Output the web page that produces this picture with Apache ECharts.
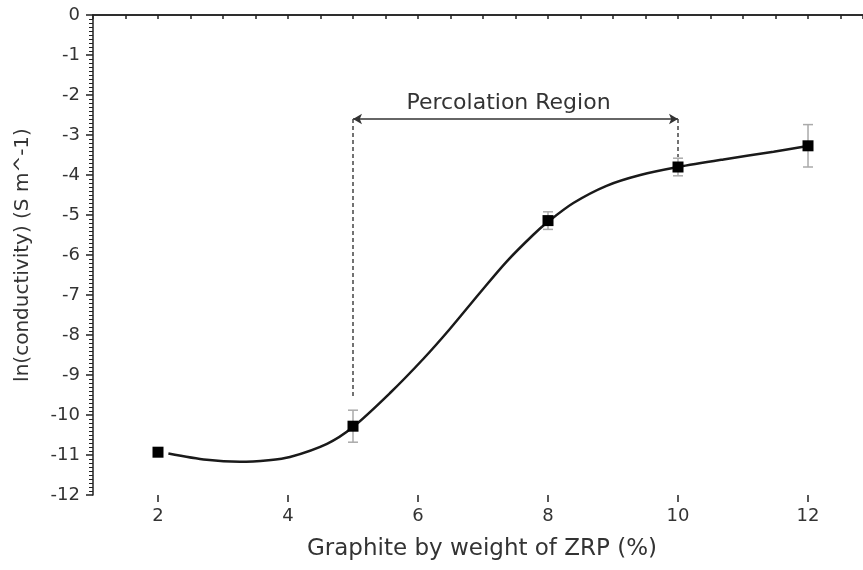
<!DOCTYPE html>
<html>
<head>
<meta charset="utf-8">
<script src="https://cdn.jsdelivr.net/npm/echarts@6/dist/echarts.min.js"></script>
<style>html,body{margin:0;padding:0;background:#fff}#c{width:863px;height:570px}</style>
</head>
<body>
<div id="c"></div>
<script>
// Measured points
const graphite = [2, 5, 8, 10, 12];
const lnCond = [-10.93, -10.28, -5.14, -3.80, -3.27];
const errAmt = [0, 0.40, 0.22, 0.22, 0.53];
// Fitted curve
const curveX = [2.16, 2.75, 3.26, 3.7, 4.03, 4.6, 5.0, 5.57, 6.08, 6.49, 6.95, 7.36, 7.77, 8.0, 8.39, 8.9, 9.42, 10.0, 10.7, 11.47, 11.95];
const curveY = [-10.96, -11.12, -11.17, -11.13, -11.05, -10.72, -10.3, -9.45, -8.6, -7.85, -6.95, -6.17, -5.5, -5.17, -4.7, -4.27, -4.0, -3.8, -3.61, -3.42, -3.29];
// Annotation
const percStart = 5, percEnd = 10, percLevel = -2.6;
const dashEnds = [-9.6, -3.55];
const xLabels = [2, 4, 6, 8, 10, 12];

const FONT = 'DejaVu Sans';
const TXT = '#333';

const chart = echarts.init(document.getElementById('c'));
const curveData = curveX.map((x, i) => [x, curveY[i]]);
const pointData = graphite.map((x, i) => [x, lnCond[i]]);
const errData = graphite.map((x, i) => [x, lnCond[i] - errAmt[i], lnCond[i] + errAmt[i]]).filter((d, i) => errAmt[i] > 0);

const XMAX = 12.846;
const dashStyle = { type: [4, 3], width: 1.5, color: '#444' };

chart.setOption({
  animation: false,
  grid: { left: 93, top: 15, width: 770, height: 480, show: false },
  xAxis: [
    {
      type: 'value', min: 1, max: XMAX, interval: 0.5,
      axisLine: { show: true, lineStyle: { color: '#222', width: 1.5 } },
      axisTick: { show: true, length: 4, lineStyle: { color: '#222', width: 1.5 } },
      axisLabel: { show: false },
      splitLine: { show: false },
      name: 'Graphite by weight of ZRP (%)', nameLocation: 'middle', nameGap: 43,
      nameTextStyle: { fontFamily: FONT, fontSize: 23, color: TXT, padding: [0, 0, 0, 8] }
    },
    {
      type: 'value', min: 1, max: XMAX, position: 'bottom',
      axisLine: { show: false },
      axisTick: { show: true, length: 7, customValues: xLabels, lineStyle: { color: '#222', width: 1.5 } },
      axisLabel: { show: true, customValues: xLabels, margin: 12, fontFamily: FONT, fontSize: 18, color: TXT },
      splitLine: { show: false }
    },
    {
      type: 'value', min: 1, max: XMAX, position: 'top',
      axisLine: { show: true, lineStyle: { color: '#222', width: 1.5 } },
      axisTick: { show: false }, axisLabel: { show: false }, splitLine: { show: false }
    }
  ],
  yAxis: {
    type: 'value', min: -12, max: 0, interval: 1,
    axisLine: { show: true, lineStyle: { color: '#222', width: 1.5 } },
    axisTick: { show: true, length: 7, lineStyle: { color: '#222', width: 1.5 } },
    minorTick: { show: true, splitNumber: 10, length: 4, lineStyle: { color: '#222', width: 1 } },
    axisLabel: { margin: 13, fontFamily: FONT, fontSize: 18, color: TXT },
    splitLine: { show: false },
    name: 'ln(conductivity) (S m^-1)', nameLocation: 'middle', nameGap: 60, nameRotate: 90,
    nameTextStyle: { fontFamily: FONT, fontSize: 20, color: TXT }
  },
  series: [
    {
      type: 'line', data: curveData, smooth: 0.3, showSymbol: false, symbol: 'none',
      lineStyle: { color: '#1a1a1a', width: 2.5 }, z: 2,
      markLine: {
        silent: true, animation: false,
        symbolSize: [8, 9],
        lineStyle: { color: '#333', width: 1.5, type: 'solid' },
        label: { show: false },
        data: [
          [{ coord: [percStart, percLevel], symbol: 'arrow',
             label: { show: true, position: 'middle', distance: 5, formatter: 'Percolation Region', fontFamily: FONT, fontSize: 22, color: TXT, padding: [0, 14, 0, 0] } },
           { coord: [percEnd, percLevel], symbol: 'arrow' }],
          [{ coord: [percStart, percLevel], symbol: 'none', lineStyle: dashStyle }, { coord: [percStart, dashEnds[0]], symbol: 'none' }],
          [{ coord: [percEnd, percLevel], symbol: 'none', lineStyle: dashStyle }, { coord: [percEnd, dashEnds[1]], symbol: 'none' }]
        ]
      }
    },
    {
      type: 'custom', data: errData, z: 3,
      renderItem: function (params, api) {
        const x = api.value(0), lo = api.value(1), hi = api.value(2);
        const a = api.coord([x, hi]), b = api.coord([x, lo]);
        const w = 5;
        const st = { stroke: '#aaa', lineWidth: 1.5 };
        return {
          type: 'group', children: [
            { type: 'line', shape: { x1: a[0], y1: a[1], x2: b[0], y2: b[1] }, style: st },
            { type: 'line', shape: { x1: a[0] - w, y1: a[1], x2: a[0] + w, y2: a[1] }, style: st },
            { type: 'line', shape: { x1: b[0] - w, y1: b[1], x2: b[0] + w, y2: b[1] }, style: st }
          ]
        };
      }
    },
    {
      type: 'scatter', data: pointData, symbol: 'rect', symbolSize: 11,
      itemStyle: { color: '#000', opacity: 1 }, z: 5
    }
  ]
});
</script>
</body>
</html>
